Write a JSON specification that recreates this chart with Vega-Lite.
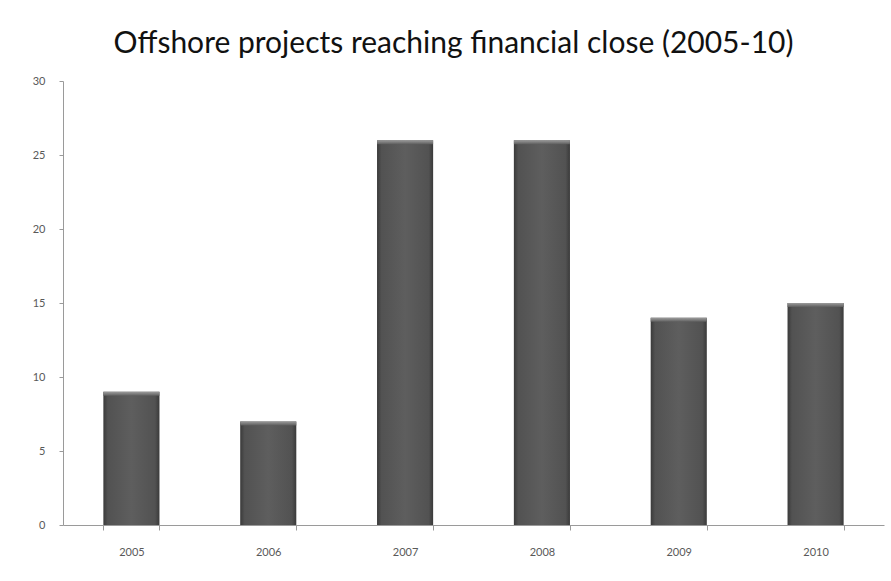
{
  "$schema": "https://vega.github.io/schema/vega-lite/v6.json",
  "width": 821,
  "height": 444,
  "autosize": {"type": "none"},
  "padding": {"left": 63, "top": 81, "right": 7, "bottom": 56},
  "background": "#ffffff",
  "title": {
    "text": "Offshore projects reaching financial close (2005-10)",
    "font": "Lato",
    "fontSize": 30,
    "fontWeight": "normal",
    "color": "#111111",
    "anchor": "middle",
    "dx": -20,
    "offset": 16
  },
  "data": {
    "values": [
      {"year": "2005", "projects": 9},
      {"year": "2006", "projects": 7},
      {"year": "2007", "projects": 26},
      {"year": "2008", "projects": 26},
      {"year": "2009", "projects": 14},
      {"year": "2010", "projects": 15}
    ]
  },
  "encoding": {
    "x": {
      "field": "year",
      "type": "nominal",
      "sort": null,
      "scale": {"paddingInner": 0.59, "paddingOuter": 0.295},
      "axis": {
        "title": null,
        "labelAngle": 0,
        "tickBand": "extent",
        "labelFont": "Lato",
        "labelFontSize": 11,
        "labelColor": "#595959",
        "labelPadding": 16,
        "domainColor": "#9a9a9a",
        "tickColor": "#9a9a9a",
        "tickSize": 5
      }
    },
    "y": {
      "field": "projects",
      "type": "quantitative",
      "scale": {"domain": [0, 30]},
      "axis": {
        "title": null,
        "values": [0, 5, 10, 15, 20, 25, 30],
        "grid": false,
        "labelFont": "Lato",
        "labelFontSize": 11,
        "labelColor": "#595959",
        "labelPadding": 14,
        "domainColor": "#9a9a9a",
        "tickColor": "#9a9a9a",
        "tickSize": 4
      }
    }
  },
  "layer": [
    {
      "mark": {
        "type": "bar",
        "fill": {
          "gradient": "linear",
          "x1": 0, "x2": 1, "y1": 0, "y2": 0,
          "stops": [
            {"offset": 0, "color": "#3a3a3a"},
            {"offset": 0.08, "color": "#525252"},
            {"offset": 0.5, "color": "#5e5e5e"},
            {"offset": 0.92, "color": "#525252"},
            {"offset": 1, "color": "#3a3a3a"}
          ]
        }
      }
    },
    {
      "mark": {
        "type": "tick",
        "size": 56,
        "thickness": 4,
        "yOffset": 2,
        "opacity": 1,
        "fill": {
          "gradient": "linear",
          "x1": 0, "x2": 0, "y1": 0, "y2": 1,
          "stops": [
            {"offset": 0, "color": "#9c9c9c"},
            {"offset": 1, "color": "#5e5e5e"}
          ]
        }
      }
    }
  ],
  "config": {
    "view": {"stroke": null}
  }
}
